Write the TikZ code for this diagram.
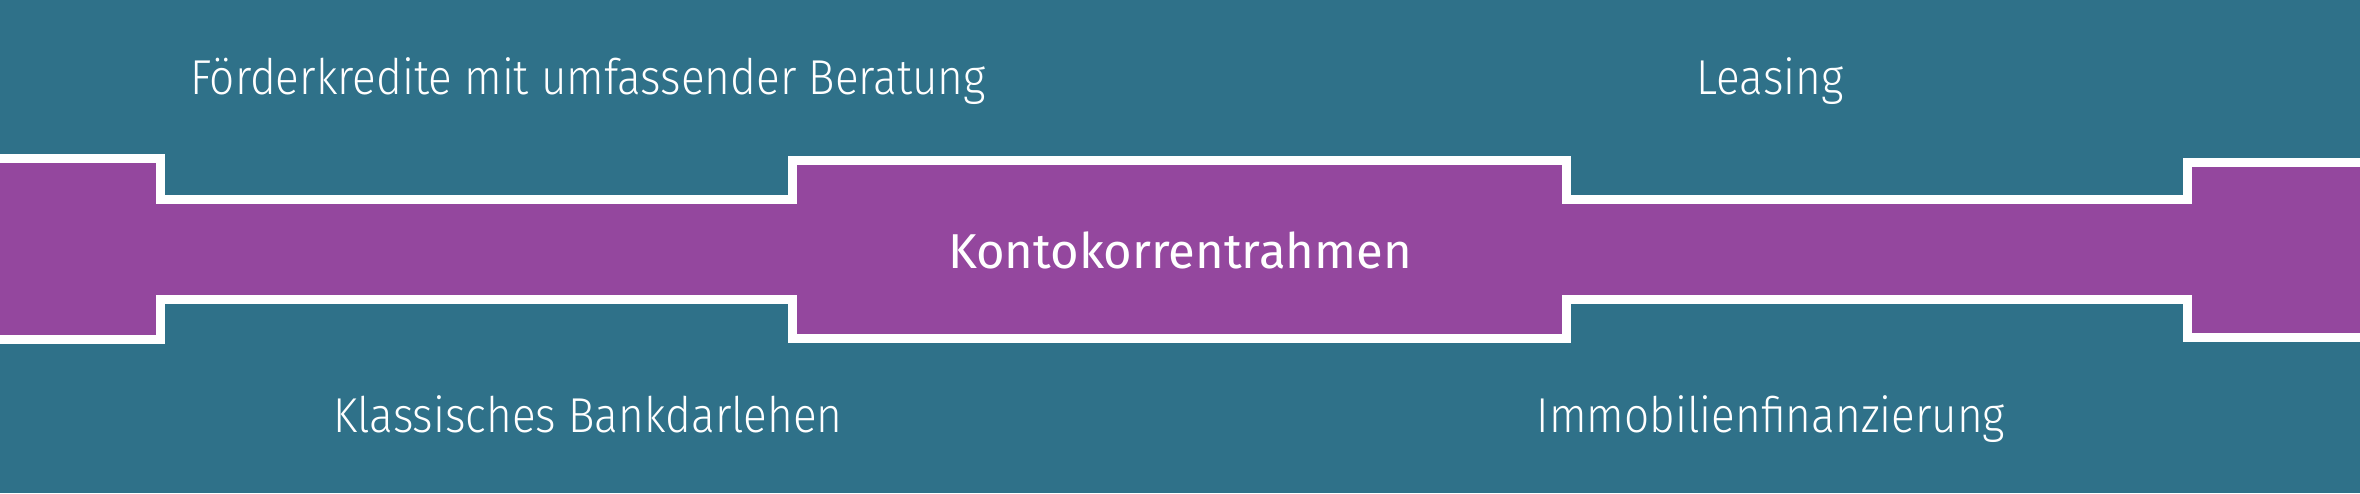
\documentclass[tikz,border=0pt]{standalone}
\usepackage{fontspec}
\setmainfont{Fira Sans}
\newfontfamily\lightfont{Fira Sans Light}[FakeStretch=0.9]
\newfontfamily\regfont{Fira Sans}
\definecolor{bgteal}{RGB}{47,113,137}
\definecolor{bandpurple}{RGB}{148,71,158}
\tikzset{
  lbl/.style={text=white,anchor=base,inner sep=0pt,font=\lightfont\fontsize{24.5}{28}\selectfont},
  mainlbl/.style={text=white,anchor=base,inner sep=0pt,font=\regfont\fontsize{24.5}{28}\selectfont},
  edge/.style={draw=white,line width=4.5pt,line join=miter,line cap=butt}
}
\begin{document}
\begin{tikzpicture}[x=0.5pt,y=-0.5pt]
\useasboundingbox (0,0) rectangle (2360,493);
\fill[bgteal] (0,0) rectangle (2360,493);
\begin{scope}
\clip (0,0) rectangle (2360,493);
\fill[bandpurple] (-20,158.5) -- (160.5,158.5) -- (160.5,199.5) -- (792.5,199.5) -- (792.5,160) -- (1566.5,160) -- (1566.5,199.5) -- (2187.5,199.5) -- (2187.5,162) -- (2380,162)
  -- (2380,337) -- (2187.5,337) -- (2187.5,299) -- (1566.5,299) -- (1566.5,338.5) -- (792.5,338.5) -- (792.5,299) -- (160.5,299) -- (160.5,339.5) -- (-20,339.5) -- cycle;
\draw[edge] (-20,158.5) -- (160.5,158.5) -- (160.5,199.5) -- (792.5,199.5) -- (792.5,160) -- (1566.5,160) -- (1566.5,199.5) -- (2187.5,199.5) -- (2187.5,162) -- (2380,162);
\draw[edge] (-20,339.5) -- (160.5,339.5) -- (160.5,299) -- (792.5,299) -- (792.5,338.5) -- (1566.5,338.5) -- (1566.5,299) -- (2187.5,299) -- (2187.5,337) -- (2380,337);
\end{scope}
\node[lbl] (foerder) at (588,94) {Förderkredite mit umfassender Beratung};
\node[lbl] (leasing) at (1770,94) {Leasing};
\node[mainlbl] (konto) at (1180,268) {Kontokorrentrahmen};
\node[lbl] (bank) at (588,432) {Klassisches Bankdarlehen};
\node[lbl] (immo) at (1771,432) {Immobilienfinanzierung};
\end{tikzpicture}
\end{document}
